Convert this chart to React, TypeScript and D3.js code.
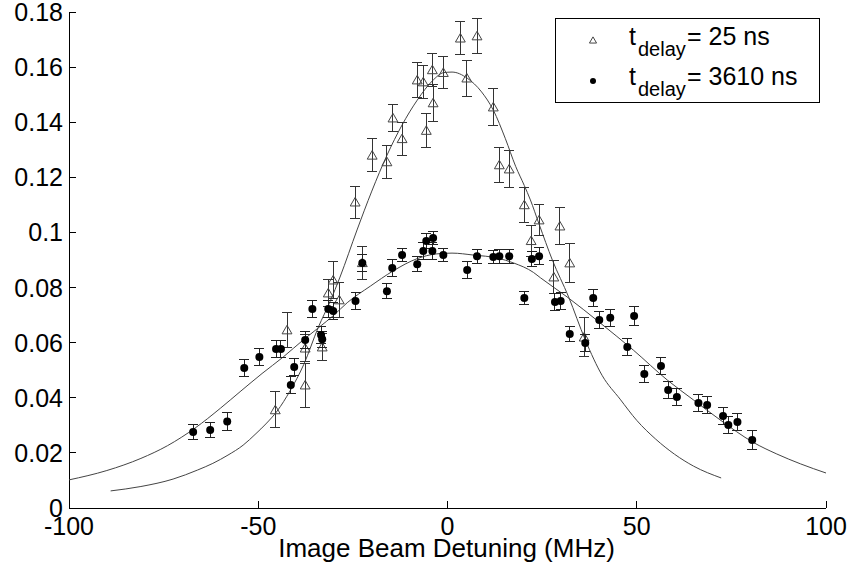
import React from "react";
import * as d3 from "d3";

// 25 ns series (triangles)
const triX = [-45.5, -42.4, -37.6, -37.6, -33.1, -31.5, -30.2, -28.6, -24.4, -22.5, -19.9, -16.0, -14.4, -12.0, -8.0, -6.4, -5.6, -4.0, -3.8, -1.1, 3.4, 5.1, 7.8, 12.1, 13.7, 16.3, 20.3, 22.1, 24.2, 28.1, 29.7, 32.3, 36.1];
const triY = [0.0356, 0.0646, 0.0446, 0.058, 0.0584, 0.078, 0.0827, 0.0755, 0.111, 0.089, 0.128, 0.1256, 0.1415, 0.134, 0.1553, 0.1546, 0.137, 0.159, 0.147, 0.158, 0.1705, 0.156, 0.1713, 0.1455, 0.1245, 0.123, 0.110, 0.097, 0.1045, 0.0838, 0.1023, 0.0889, 0.062];
const triErr = [0.0065, 0.0064, 0.008, 0.005, 0.005, 0.005, 0.0067, 0.0065, 0.0058, 0.006, 0.006, 0.006, 0.005, 0.006, 0.0064, 0.006, 0.006, 0.006, 0.0066, 0.0058, 0.006, 0.0065, 0.0065, 0.0066, 0.0062, 0.0066, 0.0063, 0.0057, 0.0057, 0.006, 0.0066, 0.0072, 0.007];

// 3610 ns series (filled circles)
const cirX = [-67.2, -62.7, -58.2, -53.7, -49.7, -45.3, -44.0, -41.4, -40.5, -37.6, -35.7, -33.4, -33.1, -31.5, -30.2, -24.3, -22.5, -16.0, -14.6, -12.0, -8.0, -6.4, -5.6, -3.8, -4.0, -1.1, 5.2, 7.8, 12.1, 13.7, 16.3, 20.3, 22.3, 24.2, 28.4, 29.9, 32.3, 36.4, 38.5, 40.1, 43.0, 47.5, 49.3, 52.0, 56.4, 58.3, 60.6, 66.3, 68.6, 72.8, 74.2, 76.6, 80.5];
const cirY = [0.0276, 0.0283, 0.0314, 0.0508, 0.0548, 0.0577, 0.0577, 0.0446, 0.0512, 0.061, 0.0722, 0.0628, 0.0612, 0.0722, 0.0715, 0.0751, 0.0889, 0.0787, 0.0871, 0.0918, 0.0885, 0.0933, 0.0969, 0.098, 0.0933, 0.0918, 0.0864, 0.0914, 0.0911, 0.0914, 0.0914, 0.0762, 0.0904, 0.0914, 0.0748, 0.0751, 0.0631, 0.0599, 0.0762, 0.0682, 0.069, 0.0584, 0.0697, 0.0486, 0.0515, 0.0428, 0.0403, 0.0381, 0.0374, 0.0334, 0.0301, 0.0312, 0.0247];
const cirErr = [0.0027, 0.0027, 0.0033, 0.003, 0.003, 0.003, 0.003, 0.003, 0.003, 0.003, 0.003, 0.003, 0.003, 0.003, 0.003, 0.003, 0.003, 0.0028, 0.003, 0.0025, 0.0028, 0.003, 0.0028, 0.0025, 0.003, 0.0025, 0.003, 0.0025, 0.0025, 0.0025, 0.0025, 0.0025, 0.0028, 0.003, 0.003, 0.003, 0.0028, 0.003, 0.003, 0.003, 0.003, 0.003, 0.0035, 0.003, 0.003, 0.003, 0.003, 0.003, 0.003, 0.003, 0.003, 0.003, 0.0036];

// Fit curves
const fitTriX = [-89, -81, -72.5, -66, -62, -58, -54, -50.6, -48, -45, -41.6, -38, -34.1, -31, -28.4, -23.9, -20, -16, -12, -8, -4, -1, 1.2, 5.2, 9, 12.1, 15.3, 18, 20.3, 21.9, 24.2, 27.7, 32, 36.4, 40.9, 45.6, 50, 55, 60, 65, 72.3];
const fitTriY = [0.0062, 0.0078, 0.0105, 0.0138, 0.0162, 0.0192, 0.0228, 0.027, 0.0305, 0.0352, 0.0425, 0.052, 0.0657, 0.075, 0.0838, 0.1009, 0.115, 0.128, 0.139, 0.148, 0.155, 0.158, 0.1582, 0.156, 0.151, 0.1444, 0.134, 0.124, 0.117, 0.1118, 0.103, 0.090, 0.0766, 0.061, 0.048, 0.0395, 0.0318, 0.025, 0.0195, 0.0152, 0.0109];
const fitCirX = [-100, -90, -81, -74, -66.7, -60, -54.8, -49, -43.4, -38.1, -34.1, -30, -26.5, -20.4, -14.4, -8, -3, 1.2, 6.8, 13.2, 17.5, 22.7, 24.6, 31.6, 40.4, 49.1, 58.1, 65, 72, 80.8, 87, 93.3, 100];
const fitCirY = [0.0102, 0.0136, 0.018, 0.0226, 0.029, 0.0362, 0.0422, 0.0488, 0.0548, 0.061, 0.0654, 0.070, 0.0745, 0.0805, 0.086, 0.0905, 0.0922, 0.0925, 0.0918, 0.0907, 0.0889, 0.0855, 0.0835, 0.0766, 0.0671, 0.0573, 0.0464, 0.0392, 0.032, 0.0238, 0.0196, 0.016, 0.0127];

const xTicks = [-100, -50, 0, 50, 100];
const yTicks = [0, 0.02, 0.04, 0.06, 0.08, 0.1, 0.12, 0.14, 0.16, 0.18];
const xLabel = "Image Beam Detuning (MHz)";
const legendLabels = ["= 25 ns", "= 3610 ns"];

const W = 853, H = 572;
const L = 69, R = 826, T = 12, B = 508;
const FONT = "'Liberation Sans', Arial, sans-serif";

export default function App() {
  const x = d3.scaleLinear().domain([-100, 100]).range([L, R]);
  const y = d3.scaleLinear().domain([0, 0.18]).range([B, T]);
  const line = d3.line<[number, number]>().x(d => x(d[0])).y(d => y(d[1])).curve(d3.curveMonotoneX);
  const triCurve = fitTriX.map((v, i) => [v, fitTriY[i]] as [number, number]);
  const cirCurve = fitCirX.map((v, i) => [v, fitCirY[i]] as [number, number]);
  const tri = d3.symbol().type(d3.symbolTriangle).size(42);

  const errBar = (cx: number, cy: number, e: number, k: string, color: string) => {
    const px = x(cx), top = y(cy + e), bot = y(cy - e);
    return (
      <g key={k} stroke={color} strokeWidth={1} shapeRendering="crispEdges">
        <line x1={px} x2={px} y1={top} y2={bot} />
        <line x1={px - 5} x2={px + 5} y1={top} y2={top} />
        <line x1={px - 5} x2={px + 5} y1={bot} y2={bot} />
      </g>
    );
  };

  return (
    <svg width={W} height={H} style={{ position: "absolute", left: 0, top: 0, background: "#fff" }} fontFamily={FONT}>
      <rect x={0} y={0} width={W} height={H} fill="#fff" />
      {/* axes */}
      <g stroke="#000" strokeWidth={1} shapeRendering="crispEdges">
        <line x1={L} x2={R} y1={B} y2={B} />
        <line x1={L} x2={L} y1={T} y2={B} />
        {xTicks.map(t => <line key={"xt" + t} x1={x(t)} x2={x(t)} y1={B} y2={B - 7} />)}
        {yTicks.map(t => <line key={"yt" + t} x1={L} x2={L + 7} y1={y(t)} y2={y(t)} />)}
      </g>
      {xTicks.map(t => (
        <text key={"xl" + t} x={x(t)} y={B + 27} fontSize={25} textAnchor="middle" fill="#000">{String(t)}</text>
      ))}
      {yTicks.map(t => (
        <text key={"yl" + t} x={L - 6} y={y(t) + 9} fontSize={25} textAnchor="end" fill="#000">{String(t)}</text>
      ))}
      <text x={(L + R) / 2 - 1} y={557} fontSize={26} textAnchor="middle" fill="#000">{xLabel}</text>

      {/* fit curves */}
      <path d={line(triCurve) || ""} fill="none" stroke="#444" strokeWidth={1} />
      <path d={line(cirCurve) || ""} fill="none" stroke="#444" strokeWidth={1} />

      {/* triangles */}
      {triX.map((v, i) => errBar(v, triY[i], triErr[i], "te" + i, "#333"))}
      {triX.map((v, i) => (
        <path key={"tm" + i} d={tri() || ""} transform={`translate(${x(v)},${y(triY[i]) + 1})`} fill="none" stroke="#444" strokeWidth={1} />
      ))}

      {/* circles */}
      {cirX.map((v, i) => errBar(v, cirY[i], cirErr[i], "ce" + i, "#222"))}
      {cirX.map((v, i) => (
        <circle key={"cm" + i} cx={x(v)} cy={y(cirY[i])} r={4} fill="#000" />
      ))}

      {/* legend */}
      <rect x={555.5} y={18.5} width={264} height={84} fill="#fff" stroke="#000" strokeWidth={1} shapeRendering="crispEdges" />
      <path d={d3.symbol().type(d3.symbolTriangle).size(22)() || ""} transform="translate(593,41)" fill="none" stroke="#444" strokeWidth={1} />
      <circle cx={593} cy={81} r={3} fill="#000" />
      {legendLabels.map((lab, i) => (
        <g key={"lg" + i} fill="#000">
          <text x={629} y={45 + i * 40} fontSize={25}>t</text>
          <text x={638} y={56 + i * 40} fontSize={20}>delay</text>
          <text x={687} y={45 + i * 40} fontSize={25}>{lab}</text>
        </g>
      ))}
    </svg>
  );
}
